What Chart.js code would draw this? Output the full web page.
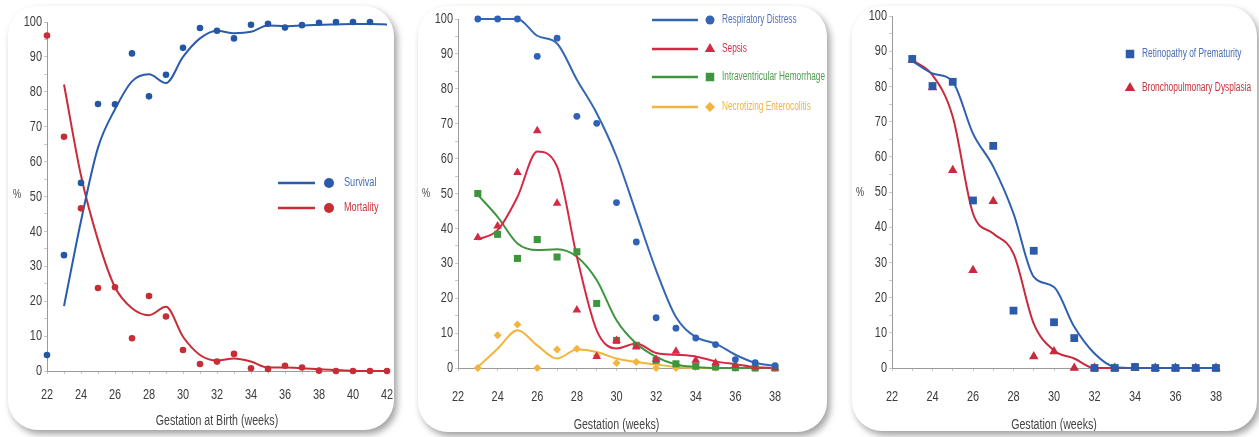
<!DOCTYPE html>
<html>
<head>
<meta charset="utf-8">
<title>Preterm outcomes by gestation</title>
<script src="https://cdn.jsdelivr.net/npm/chart.js@4.4.1/dist/chart.umd.min.js"></script>
<style>
  body { margin: 0; background: #fff; width: 1259px; height: 437px; overflow: hidden; position: relative; }
  .card { position: absolute; background: #fff; border-radius: 30px; box-shadow: 3px 4px 7px rgba(0,0,0,0.38); overflow: hidden; }
  canvas { display: block; }
</style>
</head>
<body>
<div class="card" style="left:8px;top:6px;width:386px;height:424px"><canvas id="c1" width="386" height="424"></canvas></div>
<div class="card" style="left:418px;top:6px;width:409px;height:426px"><canvas id="c2" width="409" height="426"></canvas></div>
<div class="card" style="left:852px;top:6px;width:405px;height:425px"><canvas id="c3" width="405" height="425"></canvas></div>
<script>
// ---- panel 1: survival / mortality by gestation at birth
const birthWeeks = [22, 23, 24, 25, 26, 27, 28, 29, 30, 31, 32, 33, 34, 35, 36, 37, 38, 39, 40, 41, 42];
const survivalDots = [4.6, 33.2, 53.9, 76.5, 76.4, 91.0, 78.7, 84.9, 92.6, 98.3, 97.5, 95.3, 99.2, 99.5, 98.4, 99.1, 99.8, 100, 100, 100, null];
const mortalityDots = [96.1, 67.1, 46.6, 23.8, 24.0, 9.4, 21.5, 15.6, 6.0, 2.0, 2.7, 4.9, 0.8, 0.6, 1.5, 1.0, 0.1, 0, 0, 0, 0];
const survivalFit = [null, 18.6, 43, 64, 75, 83, 85, 82.5, 90, 95.3, 97.5, 96.8, 97.2, 99, 98.8, 99, 99.2, 99.3, 99.4, 99.4, 99.3];
const mortalityFit = [null, 82.1, 56, 37.5, 24, 18, 16, 18.4, 9.8, 4.6, 3.0, 3.6, 2.7, 1.0, 1.0, 0.8, 0.5, 0.3, 0.1, 0, 0];
const panel1Names = ['Survival', 'Mortality'];

// ---- panel 2: complications
const gestWeeks = [23, 24, 25, 26, 27, 28, 29, 30, 31, 32, 33, 34, 35, 36, 37, 38];
const rdDots = [100, 100, 100, 89.3, 94.5, 72.1, 70.1, 47.4, 36.1, 14.4, 11.4, 8.6, 6.7, 2.4, 1.5, 0.7];
const rdFit = [100, 100, 100, 95.2, 93, 82.6, 73, 60.6, 44.3, 28, 14.6, 8.9, 7, 3.8, 1.5, 0.6];
const sepsisDots = [37.4, 40.7, 56, 68, 47.2, 16.6, 3.3, 7.9, 6, 2.4, 4.8, 2.2, 1.4, 0.8, 0.3, 0];
const sepsisFit = [36.8, 39.5, 49, 62, 57.7, 31.9, 10.8, 5.6, 7, 4.3, 3.8, 3.3, 1.9, 1.1, 0.3, 0];
const ivhDots = [50, 38.3, 31.4, 36.8, 31.8, 33.3, 18.5, 7.9, 6.5, 2.2, 1.2, 0.5, 0.3, 0.1, 0, 0];
const ivhFit = [49.6, 43.3, 35.7, 33.8, 34, 31.9, 25.2, 13.7, 7, 3.2, 1, 0.3, 0, 0, 0, 0];
const necDots = [0, 9.4, 12.5, 0, 5.3, 5.5, 3.6, 1.4, 1.7, 0, 0, 0.5, 0.1, 0, 0, 0];
const necFit = [0.3, 5.5, 10.8, 6.5, 2.7, 5.3, 4.6, 2.7, 1.7, 1.0, 0.3, 0, 0, 0, 0, 0];
const panel2Names = ['Respiratory Distress', 'Sepsis', 'Intraventricular Hemorrhage', 'Necrotizing Enterocolitis'];

// ---- panel 3: ROP / BPD
const ropDots = [87.8, 80.1, 81.3, 47.6, 63.1, 16.3, 33.3, 13, 8.5, 0, 0, 0.3, 0, 0, 0, 0];
const ropFit = [87.2, 83.7, 81.3, 66.6, 57.2, 43.9, 25.9, 23, 11.7, 4.1, 0.3, 0, 0, 0, 0, 0];
const bpdDots = [87.5, 79.7, 56.2, 27.8, 47.4, null, 3.3, 4.7, 0, 0, 0, 0, 0, 0, 0, 0];
const bpdFit = [87.5, 83.2, 71.4, 43.9, 38.2, 32.5, 12.6, 5, 2.7, 0, 0, 0, 0, 0, 0, 0];
const panel3Names = ['Retinopathy of Prematurity', 'Bronchopulmonary Dysplasia'];

// no narrow font installed, so text is squeezed horizontally when drawn
const FONT = "'Liberation Sans', Arial, sans-serif";

function pts(xs, ys) {
    return xs.map((x, i) => ({ x: x, y: ys[i] }));
}

function fitLine(xs, ys, color) {
    return {
        data: pts(xs, ys), showLine: true, borderColor: color, borderWidth: 2,
        pointRadius: 0, cubicInterpolationMode: 'monotone', clip: false, order: 5
    };
}

function dots(label, xs, ys, color, style, r) {
    return {
        label: label, data: pts(xs, ys), showLine: false, pointStyle: style,
        pointRadius: r, backgroundColor: color, borderWidth: 0, clip: false, order: 1
    };
}

function noPad(s) {
    s.paddingLeft = 0; s.paddingRight = 0; s.paddingTop = 0; s.paddingBottom = 0;
}

function axes(xMax) {
    // tick labels are kept for layout but painted by the decor plugin
    return {
        x: {
            type: 'linear', min: 22, max: xMax,
            afterFit: s => { s.height = 40; noPad(s); },
            ticks: { stepSize: 1, autoSkip: false, maxRotation: 0, color: 'rgba(0,0,0,0)',
                     font: { family: FONT, size: 14 }, callback: v => (v % 2 === 0 ? v : '') },
            grid: { drawOnChartArea: false, tickLength: 3, color: '#c8c8c8' },
            border: { color: '#9a9a9a' }
        },
        y: {
            min: 0, max: 100,
            afterFit: s => { s.width = 36; noPad(s); },
            ticks: { stepSize: 5, autoSkip: false, color: 'rgba(0,0,0,0)',
                     font: { family: FONT, size: 14 }, callback: v => (v % 10 === 0 ? v : '') },
            grid: { drawOnChartArea: false, tickLength: 3, color: '#c8c8c8' },
            border: { color: '#9a9a9a' }
        }
    };
}

// titles, % label and the line+marker legends, per canvas
const decorations = {
    c1: {
        xTitle: 'Gestation at Birth (weeks)', titleY: 415, pct: [5, 189], tickGap: 24,
        lineX: [270, 307], markX: 321, textX: 336, squeeze: 0.76,
        items: [
            { label: panel1Names[0], y: 177, color: '#2b5cab', text: '#4a6db3', style: 'circle', r: 5 },
            { label: panel1Names[1], y: 202, color: '#c62d36', text: '#c8323c', style: 'circle', r: 5 }
        ]
    },
    c2: {
        xTitle: 'Gestation (weeks)', titleY: 419, pct: [4, 188], tickGap: 29,
        lineX: [234, 280], markX: 292, textX: 304, squeeze: 0.69,
        items: [
            { label: panel2Names[0], y: 14, color: '#3566b3', text: '#5574b8', style: 'circle', r: 4.5 },
            { label: panel2Names[1], y: 43, color: '#d42a45', text: '#d0324a', style: 'triangle', r: 6 },
            { label: panel2Names[2], y: 71, color: '#3d963d', text: '#4f9a4f', style: 'rect', r: 6 },
            { label: panel2Names[3], y: 101, color: '#f2b43c', text: '#f0b448', style: 'rectRot', r: 5 }
        ]
    },
    c3: {
        xTitle: 'Gestation (weeks)', titleY: 419, pct: [4, 187], tickGap: 29,
        lineX: null, markX: 278, textX: 290, squeeze: 0.7,
        items: [
            { label: panel3Names[0], y: 48, color: '#2a5aa8', text: '#4a6db3', style: 'rect', r: 6 },
            { label: panel3Names[1], y: 82, color: '#c8293c', text: '#c8323c', style: 'triangle', r: 6 }
        ]
    }
};

function squeezedText(ctx, text, x, y, align, sx) {
    ctx.save();
    ctx.translate(x, y);
    ctx.scale(sx, 1);
    ctx.textAlign = align;
    ctx.fillText(text, 0, 0);
    ctx.restore();
}

const decor = {
    id: 'decor',
    afterDraw(chart) {
        const d = decorations[chart.canvas.id];
        const ctx = chart.ctx;
        const area = chart.chartArea;
        const xs = chart.scales.x, ys = chart.scales.y;
        ctx.save();
        ctx.textBaseline = 'middle';
        ctx.fillStyle = '#3c3c3c';
        ctx.font = '15px ' + FONT;
        xs.ticks.forEach(t => {
            if (t.value % 2 === 0) squeezedText(ctx, String(t.value), xs.getPixelForValue(t.value), area.bottom + d.tickGap, 'center', 0.73);
        });
        ys.ticks.forEach(t => {
            if (t.value % 10 === 0) squeezedText(ctx, String(t.value), area.left - 5, ys.getPixelForValue(t.value), 'right', 0.73);
        });
        ctx.fillStyle = '#454545';
        ctx.font = '14px ' + FONT;
        squeezedText(ctx, d.xTitle, (area.left + area.right) / 2, d.titleY, 'center', 0.76);
        ctx.font = '12px ' + FONT;
        squeezedText(ctx, '%', d.pct[0], d.pct[1], 'left', 0.76);
        d.items.forEach(it => {
            if (d.lineX) {
                ctx.strokeStyle = it.color;
                ctx.lineWidth = 2.5;
                ctx.beginPath();
                ctx.moveTo(d.lineX[0], it.y);
                ctx.lineTo(d.lineX[1], it.y);
                ctx.stroke();
            }
            ctx.fillStyle = it.color;
            Chart.helpers.drawPoint(ctx, { pointStyle: it.style, radius: it.r, rotation: 0, borderWidth: 0 }, d.markX, it.y);
            ctx.fillStyle = it.text;
            ctx.font = '12px ' + FONT;
            squeezedText(ctx, it.label, d.textX, it.y, 'left', d.squeeze);
        });
        ctx.restore();
    }
};

function makeChart(id, datasets, xMax, padding) {
    return new Chart(document.getElementById(id), {
        type: 'scatter',
        data: { datasets: datasets },
        options: {
            responsive: false,
            animation: false,
            layout: { padding: padding },
            scales: axes(xMax),
            plugins: { legend: { display: false }, tooltip: { enabled: false } }
        },
        plugins: [decor]
    });
}

makeChart('c1', [
    fitLine(birthWeeks, survivalFit, '#2b5cab'),
    fitLine(birthWeeks, mortalityFit, '#c62d36'),
    dots(panel1Names[0], birthWeeks, survivalDots, '#2357a6', 'circle', 3.3),
    dots(panel1Names[1], birthWeeks, mortalityDots, '#c62d36', 'circle', 3.3)
], 42, { left: 3, right: 7, top: 16, bottom: 19 });

makeChart('c2', [
    fitLine(gestWeeks, rdFit, '#3566b3'),
    fitLine(gestWeeks, sepsisFit, '#d42a45'),
    fitLine(gestWeeks, ivhFit, '#3d963d'),
    fitLine(gestWeeks, necFit, '#f2b43c'),
    dots(panel2Names[0], gestWeeks, rdDots, '#2f62b4', 'circle', 3.4),
    dots(panel2Names[1], gestWeeks, sepsisDots, '#d42a45', 'triangle', 5),
    dots(panel2Names[2], gestWeeks, ivhDots, '#3d963d', 'rect', 5),
    dots(panel2Names[3], gestWeeks, necDots, '#f2b43c', 'rectRot', 4)
], 38, { left: 4, right: 52, top: 13, bottom: 24 });

makeChart('c3', [
    fitLine(gestWeeks, ropFit, '#2f5fae'),
    fitLine(gestWeeks, bpdFit, '#c8293c'),
    dots(panel3Names[1], gestWeeks, bpdDots, '#c8293c', 'triangle', 5.5),
    Object.assign(dots(panel3Names[0], gestWeeks, ropDots, '#2a5aa8', 'rect', 5.5), { order: 0 })
], 38, { left: 4, right: 41, top: 10, bottom: 23 });
</script>
</body>
</html>
